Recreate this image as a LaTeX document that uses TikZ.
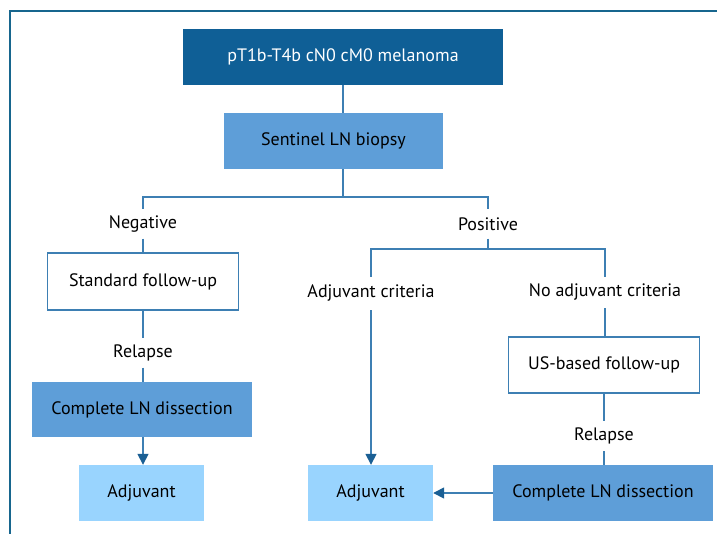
\documentclass[tikz,border=0pt]{standalone}
\usepackage{fontspec}
\setmainfont{PT Sans}
\usetikzlibrary{arrows.meta}
\definecolor{framec}{HTML}{17668E}
\definecolor{darkb}{HTML}{0F5F96}
\definecolor{midb}{HTML}{5E9ED8}
\definecolor{lightb}{HTML}{99D4FE}
\definecolor{linec}{HTML}{3D7FB3}
\definecolor{arrowc}{HTML}{1A5F94}
\begin{document}
\begin{tikzpicture}[x=1pt,y=-1pt,
  every node/.style={font=\fontsize{18}{21}\selectfont, text=black},
  box/.style={rectangle, minimum height=56pt, inner sep=0pt},
  topbox/.style={box, fill=darkb, text=white},
  midbox/.style={box, fill=midb},
  lightbox/.style={box, fill=lightb},
  whitebox/.style={box, draw=linec, line width=1.5pt, fill=white},
  lbl/.style={inner sep=0pt, minimum height=29pt},
  conn/.style={draw=linec, line width=1.5pt},
  arr/.style={conn, -{Triangle[length=11pt,width=11pt,fill=arrowc,color=arrowc]}}
]
\useasboundingbox (0,0) rectangle (717,533);
\draw[framec, line width=2.5pt] (10,540) -- (10,11) -- (725,11);

\node[topbox, minimum width=320pt] (top) at (343,57) {pT1b-T4b cN0 cM0 melanoma};
\node[midbox, minimum width=219pt] (sent) at (333.5,141) {Sentinel LN biopsy};
\coordinate (b1) at (343,197);
\node[lbl] (neg) at (143,224) {Negative};
\node[lbl] (pos) at (488,224) {Positive};
\node[whitebox, minimum width=191pt, minimum height=57pt] (std) at (143,281.5) {Standard follow-up};
\node[lbl] (rel1) at (143,353) {Relapse};
\node[midbox, minimum width=220pt, minimum height=55pt] (cln1) at (142,409.5) {Complete LN dissection};
\node[lightbox, minimum width=125pt] (adj1) at (141.5,493) {Adjuvant};
\coordinate (b2) at (488,249);
\node[lbl, minimum height=33pt] (adjc) at (371,293.5) {Adjuvant criteria};
\node[lbl, minimum height=31pt] (noadj) at (605,292.5) {No adjuvant criteria};
\node[whitebox, minimum width=191pt] (us) at (604,365) {US-based follow-up};
\node[lbl, minimum height=30pt] (rel2) at (604,436) {Relapse};
\node[midbox, minimum width=220pt] (cln2) at (603,493) {Complete LN dissection};
\node[lightbox, minimum width=125pt] (adj2) at (370.5,493) {Adjuvant};

\draw[conn] (top.south -| b1) -- (sent.north -| b1);
\draw[conn] (sent.south -| b1) -- (b1);
\draw[conn] (b1) -| (neg.north);
\draw[conn] (b1) -| (pos.north);
\draw[conn] (neg.south) -- (std.north -| neg.south);
\draw[conn] (std.south -| rel1.north) -- (rel1.north);
\draw[conn] (rel1.south) -- (cln1.north -| rel1.south);
\draw[arr] (cln1.south -| rel1.south) -- (adj1.north -| rel1.south);
\draw[conn] (pos.south) -- (b2);
\draw[conn] (b2) -| (adjc.north);
\draw[conn] (b2) -| (noadj.north);
\draw[arr] (adjc.south) -- (adj2.north -| adjc.south);
\draw[conn] (noadj.south) -- (us.north -| noadj.south);
\draw[conn] (us.south -| rel2.north) -- (rel2.north);
\draw[conn] (rel2.south) -- (cln2.north -| rel2.south);
\draw[arr] (cln2.west) -- (adj2.east);
\end{tikzpicture}
\end{document}
